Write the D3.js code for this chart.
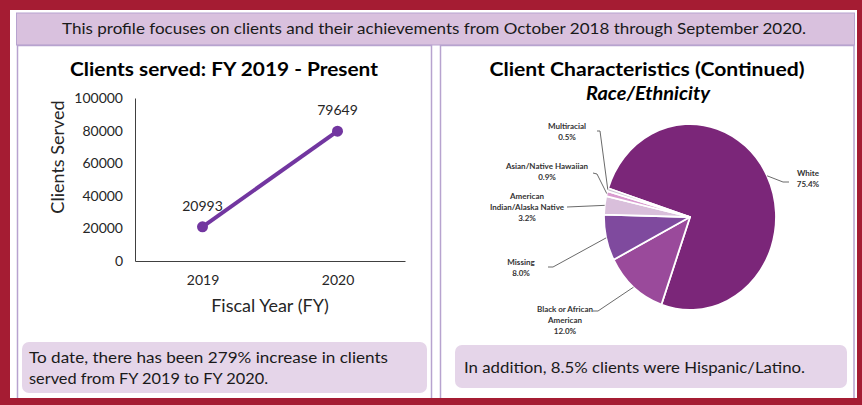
<!DOCTYPE html>
<html><head><meta charset="utf-8">
<script src="https://cdn.jsdelivr.net/npm/d3@7/dist/d3.min.js"></script>
<style>
html,body{margin:0;padding:0;background:#fff;}
text{font-family:Lato,"Open Sans",sans-serif;}
</style></head>
<body><svg id="c" width="862" height="405"></svg>
<script>
// ---------- data ----------
const years = ["2019", "2020"];
const clientsServed = [20993, 79649];
const yTicks = [0, 20000, 40000, 60000, 80000, 100000];

const raceLabels = ["White", "Black or African American", "Missing", "American Indian/Alaska Native", "Asian/Native Hawaiian", "Multiracial"];
const racePct = [75.4, 12.0, 8.0, 3.2, 0.9, 0.5];
const raceLabelLines = [["White"], ["Black or African", "American"], ["Missing"], ["American", "Indian/Alaska Native"], ["Asian/Native Hawaiian"], ["Multiracial"]];
const raceColors = ["#7b2679", "#9a4a9b", "#7f4a9e", "#d9bfdb", "#d99bcf", "#cbc3d1"];

const headerText = "This profile focuses on clients and their achievements from October 2018 through September 2020.";
const leftNote = ["To date, there has been 279% increase in clients", "served from FY 2019 to FY 2020."];
const rightNote = "In addition, 8.5% clients were Hispanic/Latino.";

// ---------- layout ----------
const svg = d3.select("#c");
const RED = "#a51c33", PANEL = "#b7a3cf";

svg.append("rect").attr("x",0).attr("y",0).attr("width",862).attr("height",405).attr("fill",RED);
svg.append("rect").attr("x",10).attr("y",10).attr("width",847).attr("height",388).attr("fill","#fff");

// header
svg.append("rect").attr("x",16.5).attr("y",13).attr("width",838).attr("height",32)
  .attr("fill","#d9c1de").attr("stroke",PANEL).attr("stroke-width",1);
svg.append("text").attr("x",434).attr("y",34).attr("text-anchor","middle")
  .attr("font-size",16).attr("fill","#1a1a1a")
  .attr("textLength",744).attr("lengthAdjust","spacingAndGlyphs").text(headerText);

// panels
svg.append("rect").attr("x",17.5).attr("y",45.5).attr("width",414).attr("height",360)
  .attr("fill","#fff").attr("stroke",PANEL).attr("stroke-width",1.5);
svg.append("rect").attr("x",440.5).attr("y",45.5).attr("width",413.5).attr("height",360)
  .attr("fill","#fff").attr("stroke",PANEL).attr("stroke-width",1.5);
svg.append("rect").attr("x",0).attr("y",398).attr("width",862).attr("height",7).attr("fill",RED);
svg.append("rect").attr("x",857).attr("y",0).attr("width",5).attr("height",405).attr("fill",RED);

// ---------- left: line chart ----------
svg.append("text").attr("x",224).attr("y",76).attr("text-anchor","middle")
  .attr("font-size",18.5).attr("font-weight","bold").attr("fill","#000")
  .attr("textLength",308).attr("lengthAdjust","spacingAndGlyphs")
  .text("Clients served: FY 2019 - Present");

const x = d3.scalePoint().domain(years).range([135,405]).padding(0.5);
const y = d3.scaleLinear().domain([0,100000]).range([261,98]);

const yAxis = svg.append("g").attr("transform","translate(135,0)")
  .call(d3.axisLeft(y).tickValues(yTicks).tickSize(0).tickPadding(12).tickFormat(d3.format("d")));
yAxis.select(".domain").attr("stroke","#404040").attr("stroke-width",1);
yAxis.selectAll("text").attr("font-size",14).attr("fill","#262626").attr("font-family","Lato");

const xAxis = svg.append("g").attr("transform","translate(0,261)")
  .call(d3.axisBottom(x).tickSize(0).tickPadding(14));
xAxis.select(".domain").attr("stroke","#404040").attr("stroke-width",1);
xAxis.selectAll("text").attr("font-size",14).attr("fill","#262626").attr("font-family","Lato");

svg.append("text").attr("transform","translate(64,157) rotate(-90)").attr("text-anchor","middle")
  .attr("font-size",18).attr("fill","#262626").text("Clients Served");
svg.append("text").attr("x",270).attr("y",312).attr("text-anchor","middle")
  .attr("font-size",18).attr("fill","#262626").text("Fiscal Year (FY)");

const pts = years.map((yr,i)=>({yr, v:clientsServed[i]}));
svg.append("path").datum(pts)
  .attr("d", d3.line().x(d=>x(d.yr)).y(d=>y(d.v)))
  .attr("fill","none").attr("stroke","#7236a0").attr("stroke-width",4);
svg.selectAll("circle.pt").data(pts).join("circle").attr("class","pt")
  .attr("cx",d=>x(d.yr)).attr("cy",d=>y(d.v)).attr("r",5.5).attr("fill","#7236a0");
svg.selectAll("text.dl").data(pts).join("text").attr("class","dl")
  .attr("x",d=>x(d.yr)).attr("y",d=>y(d.v)-16).attr("text-anchor","middle")
  .attr("font-size",14).attr("fill","#262626").text(d=>d.v);

// left note
svg.append("rect").attr("x",22).attr("y",342).attr("width",405).attr("height",51).attr("rx",7)
  .attr("fill","#e5d5e9");
svg.append("text").attr("x",29).attr("y",363).attr("font-size",16).attr("fill","#1a1a1a")
  .attr("textLength",359).attr("lengthAdjust","spacingAndGlyphs").text(leftNote[0]);
svg.append("text").attr("x",29).attr("y",384).attr("font-size",16).attr("fill","#1a1a1a")
  .attr("textLength",239).attr("lengthAdjust","spacingAndGlyphs").text(leftNote[1]);

// ---------- right: pie ----------
svg.append("text").attr("x",647).attr("y",76).attr("text-anchor","middle")
  .attr("font-size",18.5).attr("font-weight","bold").attr("fill","#000")
  .attr("textLength",315).attr("lengthAdjust","spacingAndGlyphs")
  .text("Client Characteristics (Continued)");
svg.append("text").attr("x",648).attr("y",100).attr("text-anchor","middle")
  .attr("font-size",18).attr("font-weight","bold").attr("font-style","italic").attr("fill","#000")
  .attr("textLength",124).attr("lengthAdjust","spacingAndGlyphs")
  .text("Race/Ethnicity");

const cx = 690, cy = 217, rx = 86, ry = 93, sy = ry/rx;
const rot = 288 * Math.PI/180;
const pie = d3.pie().sort(null).startAngle(rot).endAngle(rot + 2*Math.PI);
const slices = pie(racePct);
const arc = d3.arc().innerRadius(0).outerRadius(rx);
const edge = d3.arc().innerRadius(rx).outerRadius(rx);

const pg = svg.append("g").attr("transform",`translate(${cx},${cy}) scale(1,${sy})`);
pg.selectAll("path").data(slices).join("path")
  .attr("d",arc).attr("fill",(d,i)=>raceColors[i])
  .attr("stroke","#fff").attr("stroke-width",1.8).attr("vector-effect","non-scaling-stroke")
  .attr("stroke-linejoin","round");

const labelPos = [
  {anchor:[789,182], elbow:[783,182], tx:808, ty:176},
  {anchor:[593,311], elbow:[598,311], tx:565, ty:312},
  {anchor:[548,267], elbow:[553,267], tx:521, ty:265},
  {anchor:[567,207], elbow:[567,207], tx:527, ty:199},
  {anchor:[593,173], elbow:[597,174], tx:547, ty:169},
  {anchor:[597,131], elbow:[600,131], tx:567, ty:129}
];
slices.forEach((s,i)=>{
  const c = edge.centroid(s);
  const ex = cx + c[0], ey = cy + c[1]*sy;
  const L = labelPos[i];
  svg.append("path").attr("d",`M${L.anchor[0]},${L.anchor[1]}L${L.elbow[0]},${L.elbow[1]}L${ex},${ey}`)
    .attr("fill","none").attr("stroke","#595959").attr("stroke-width",0.9);
  const t = svg.append("text").attr("text-anchor","middle").attr("font-size",8)
    .attr("font-weight","bold").attr("fill","#333");
  const lines = raceLabelLines[i].concat([racePct[i].toFixed(1)+"%"]);
  lines.forEach((ln,j)=>{
    t.append("tspan").attr("x",L.tx).attr("y",L.ty + j*11).text(ln);
  });
});

// right note
svg.append("rect").attr("x",455).attr("y",345).attr("width",392).attr("height",43).attr("rx",7)
  .attr("fill","#e5d5e9");
svg.append("text").attr("x",464).attr("y",373).attr("font-size",16).attr("fill","#1a1a1a")
  .attr("textLength",341).attr("lengthAdjust","spacingAndGlyphs").text(rightNote);
</script></body></html>
